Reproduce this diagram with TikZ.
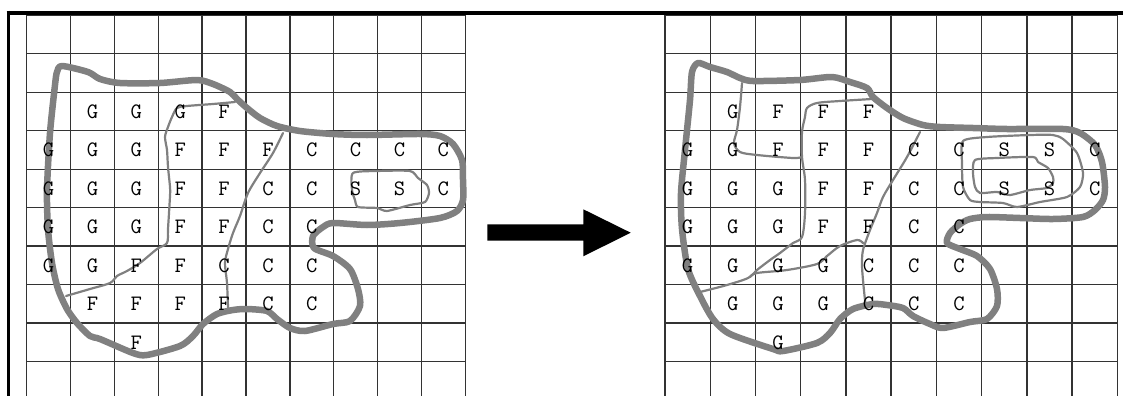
\documentclass[tikz,border=0pt]{standalone}
\usepackage{fontspec}
\begin{document}
\begin{tikzpicture}[x=1pt,y=-1pt,
  gridline/.style={line width=1.4pt, draw=black!80},
  blob/.style={line width=6.5pt, draw=black!50, line join=round},
  thinline/.style={line width=2.2pt, draw=black!50, line join=round, line cap=round},
  lbl/.style={font=\ttfamily\fontsize{22}{22}\selectfont, inner sep=0pt}]
\useasboundingbox (0,0) rectangle (1123,396);
% grids
\foreach \i in {0,...,10} \draw[gridline] ({26.7+43.86*\i},15.3) -- ({26.7+43.86*\i},396);
\foreach \j in {0,...,9} \draw[gridline] (26.7,{15.3+38.48*\j}) -- (465.3,{15.3+38.48*\j});
\foreach \i in {0,...,10} \draw[gridline] ({665+45.23*\i},15.3) -- ({665+45.23*\i},396);
\foreach \j in {0,...,9} \draw[gridline] (665,{15.3+38.48*\j}) -- (1117.3,{15.3+38.48*\j});
% borders
\draw[line width=4pt] (6.5,12.7) -- (1123,12.7);
\draw[line width=3.5pt] (8.3,10.7) -- (8.3,396);
% left blob
\draw[blob] plot[smooth cycle, tension=0.45] coordinates {
(62,66) (88,72) (100,79) (120,83) (160,83) (197,80) (213,84) (230,92) (237,99) (247,108)
(260,118) (277,126) (300,131) (333,134) (367,135) (420,134) (440,136) (453,144) (462,160)
(463,180) (463,200) (457,211) (440,218) (400,223) (367,225) (333,223) (323,227) (313,236)
(314,248) (333,256) (350,269) (358,289) (360,306) (350,321) (333,324) (305,331) (290,328)
(277,319) (267,311) (247,309) (233,310) (217,314) (203,324) (193,336) (180,346) (147,355)
(133,353) (100,339) (90,336) (77,323) (67,309) (58,289) (52,263) (48,229) (47,190)
(50,133) (55,85) (57,72)};
% left thin lines
\draw[thinline] plot[smooth, tension=0.5] coordinates {
(235,102) (213,104) (187,106) (177,108) (172,117) (168,127) (165,137) (167,150) (168,167)
(170,187) (170,196) (168,229) (167,243) (157,249) (140,263) (127,271) (117,276) (110,283)
(90,289) (66,296)};
\draw[thinline] plot[smooth, tension=0.5] coordinates {
(283,133) (273,153) (260,173) (248,193) (240,216) (233,233) (228,249) (225,263) (227,283)
(228,306) (229,310)};
\draw[thinline] plot[smooth cycle, tension=0.4] coordinates {
(353,173) (377,171) (410,171) (418,178) (427,185) (429,193) (425,202) (410,205) (387,211)
(377,208) (358,207) (355,200) (352,190)};
% right blob
\draw[blob] plot[smooth cycle, tension=0.45] coordinates {
(698,63) (710,67) (727,72) (740,78) (753,81) (800,80) (832,77) (850,82) (867,88) (873,97)
(887,108) (903,118) (923,125) (940,127) (973,128) (1007,129) (1063,129) (1080,133)
(1095,145) (1102,162) (1105,187) (1103,200) (1095,210) (1083,217) (1053,219) (1020,218)
(987,217) (970,219) (960,224) (950,233) (947,243) (960,249) (977,256) (990,269) (997,289)
(997,306) (987,319) (970,322) (943,328) (930,324) (913,316) (903,308) (887,305) (873,304)
(853,309) (840,319) (830,333) (817,343) (783,351) (773,349) (730,334) (713,319) (700,296)
(688,269) (682,229) (681,193) (685,150) (690,100) (692,72)};
% right thin lines
\draw[thinline] plot[smooth, tension=0.5] coordinates {
(742,83) (740,107) (737,130) (734,143) (740,152) (757,155) (793,158) (802,157)};
\draw[thinline] plot[smooth, tension=0.5] coordinates {
(872,99) (840,101) (817,103) (807,108) (805,117) (802,132) (802,157) (805,180) (805,213)
(802,237) (793,243) (780,253) (770,260) (757,270) (748,278) (727,285) (700,292)};
\draw[thinline] plot[smooth, tension=0.5] coordinates {
(750,277) (757,273) (787,270) (817,264) (827,256) (840,246) (857,240) (863,243)};
\draw[thinline] plot[smooth, tension=0.5] coordinates {
(920,132) (907,157) (893,180) (883,197) (877,213) (870,230) (863,250) (862,265) (863,280)
(865,300) (866,305)};
\draw[thinline] plot[smooth cycle, tension=0.4] coordinates {
(963,141) (987,137) (1030,135) (1053,135) (1063,139) (1077,153) (1083,173) (1080,187)
(1067,197) (1040,202) (1017,207) (1003,203) (980,202) (970,200) (963,187) (962,163)};
\draw[thinline] plot[smooth cycle, tension=0.4] coordinates {
(975,160) (997,158) (1033,157) (1038,162) (1048,168) (1053,177) (1053,183) (1047,188)
(1030,190) (1010,195) (997,192) (980,193) (975,187) (973,173)};
% arrow
\fill[black] (487.3,224.3) -- (583.3,224.3) -- (583.3,209.3) -- (630.7,232.7)
  -- (583.3,256.3) -- (583.3,240.7) -- (487.3,240.7) -- cycle;
% letters left
\foreach \r/\s/\lst in {2/1/{G,G,G,F}, 3/0/{G,G,G,F,F,F,C,C,C,C}, 4/0/{G,G,G,F,F,C,C,S,S,C},
  5/0/{G,G,G,F,F,C,C}, 6/0/{G,G,F,F,C,C,C}, 7/1/{F,F,F,F,C,C}, 8/2/{F}} {
  \foreach \t [count=\k from \s] in \lst
    \node[lbl] (L-\r-\k) at ({26.7+43.86*(\k+0.5)},{15.3+38.48*(\r+0.5)}) {\t};
}
% letters right
\foreach \r/\s/\lst in {2/1/{G,F,F,F}, 3/0/{G,G,F,F,F,C,C,S,S,C}, 4/0/{G,G,G,F,F,C,C,S,S,C},
  5/0/{G,G,G,F,F,C,C}, 6/0/{G,G,G,G,C,C,C}, 7/1/{G,G,G,C,C,C}, 8/2/{G}} {
  \foreach \t [count=\k from \s] in \lst
    \node[lbl] (R-\r-\k) at ({665+45.23*(\k+0.5)},{15.3+38.48*(\r+0.5)}) {\t};
}
\end{tikzpicture}
\end{document}
